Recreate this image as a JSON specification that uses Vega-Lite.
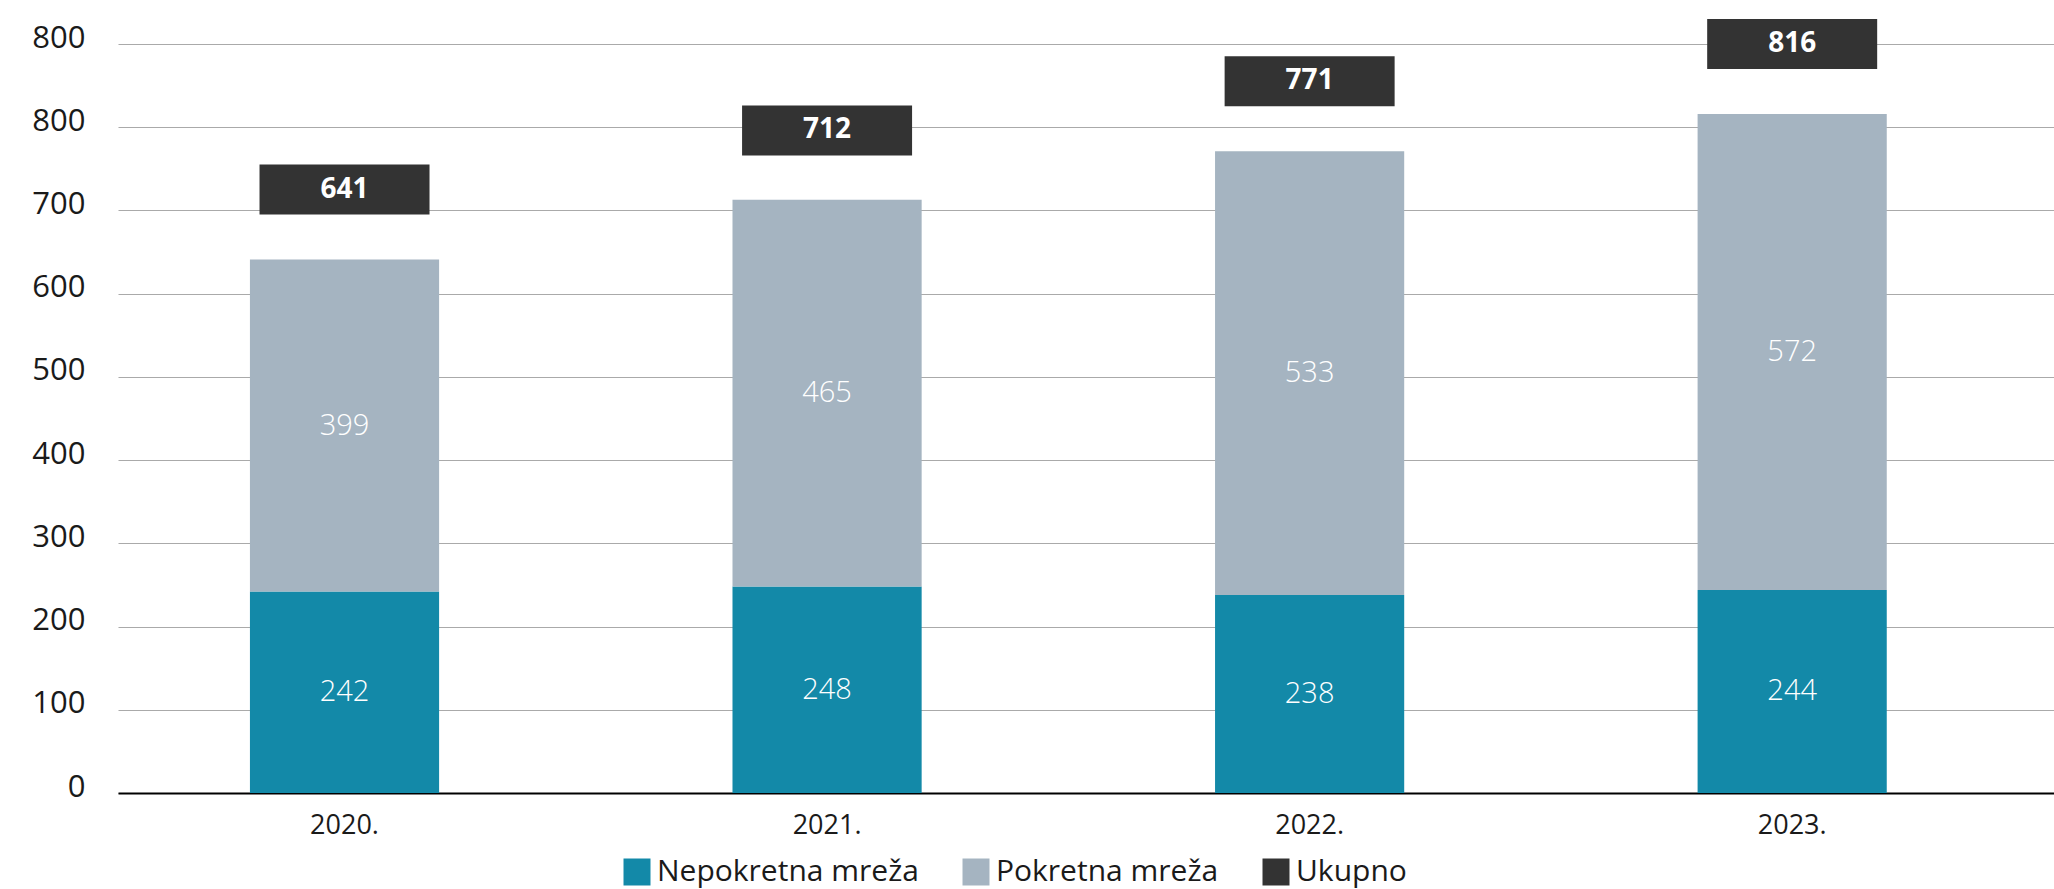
{
  "$schema": "https://vega.github.io/schema/vega-lite/v6.json",
  "width": 1936,
  "height": 749,
  "autosize": {"type": "none"},
  "padding": {"left": 118, "top": 44, "right": 0, "bottom": 96},
  "background": "white",
  "config": {"font": "Open Sans", "view": {"stroke": null}},
  "datasets": {
    "parts": [
      {"year": "2020.", "series": "Nepokretna mreža", "value": 242},
      {"year": "2020.", "series": "Pokretna mreža", "value": 399},
      {"year": "2021.", "series": "Nepokretna mreža", "value": 248},
      {"year": "2021.", "series": "Pokretna mreža", "value": 465},
      {"year": "2022.", "series": "Nepokretna mreža", "value": 238},
      {"year": "2022.", "series": "Pokretna mreža", "value": 533},
      {"year": "2023.", "series": "Nepokretna mreža", "value": 244},
      {"year": "2023.", "series": "Pokretna mreža", "value": 572}
    ],
    "totals": [
      {"year": "2020.", "series": "Ukupno", "total": 641},
      {"year": "2021.", "series": "Ukupno", "total": 712},
      {"year": "2022.", "series": "Ukupno", "total": 771},
      {"year": "2023.", "series": "Ukupno", "total": 816}
    ]
  },
  "encoding": {
    "x": {
      "field": "year",
      "type": "ordinal",
      "sort": null,
      "scale": {"paddingInner": 0.608, "paddingOuter": 0.31, "align": 0.441},
      "axis": {
        "title": null,
        "labelAngle": 0,
        "labelFontSize": 27,
        "labelColor": "#1a1a1a",
        "labelPadding": 19,
        "ticks": false,
        "domainColor": "#000000",
        "domainWidth": 2
      }
    }
  },
  "layer": [
    {
      "data": {"name": "parts"},
      "mark": {"type": "bar"},
      "encoding": {
        "y": {
          "field": "value",
          "type": "quantitative",
          "stack": "zero",
          "scale": {"domain": [0, 900], "nice": false},
          "axis": {
            "title": null,
            "values": [0, 100, 200, 300, 400, 500, 600, 700, 800, 900],
            "labelExpr": "datum.value == 900 ? '800' : datum.label",
            "labelFontSize": 31,
            "labelColor": "#1a1a1a",
            "labelPadding": 33,
            "labelOffset": -6,
            "ticks": false,
            "domain": false,
            "gridColor": "#aaaaaa",
            "gridWidth": 1.2
          }
        },
        "color": {
          "field": "series",
          "type": "nominal",
          "scale": {
            "domain": ["Nepokretna mreža", "Pokretna mreža", "Ukupno"],
            "range": ["#1389a8", "#a5b4c1", "#333333"]
          },
          "legend": {
            "title": null,
            "orient": "none",
            "direction": "horizontal",
            "legendX": 504,
            "legendY": 813,
            "symbolType": "square",
            "symbolSize": 729,
            "symbolStrokeWidth": 0,
            "symbolOpacity": 1,
            "labelFontSize": 30,
            "labelColor": "#1a1a1a",
            "labelOffset": 5,
            "columnPadding": 42,
            "labelLimit": 400
          }
        },
        "order": {"field": "series", "sort": "ascending"}
      }
    },
    {
      "data": {"name": "parts"},
      "transform": [
        {"stack": "value", "groupby": ["year"], "sort": [{"field": "series", "order": "ascending"}], "as": ["v0", "v1"]},
        {"calculate": "(datum.v0 + datum.v1) / 2", "as": "mid"}
      ],
      "mark": {"type": "text", "color": "white", "fontSize": 29, "fontWeight": 300, "baseline": "middle", "align": "center"},
      "encoding": {
        "y": {"field": "mid", "type": "quantitative"},
        "text": {"field": "value", "type": "quantitative"}
      }
    },
    {
      "data": {"name": "totals"},
      "mark": {"type": "bar", "width": 170, "yOffset": -95, "y2Offset": -45},
      "encoding": {
        "y": {"field": "total", "type": "quantitative"},
        "y2": {"field": "total"},
        "color": {"field": "series", "type": "nominal"}
      }
    },
    {
      "data": {"name": "totals"},
      "mark": {"type": "text", "color": "white", "fontSize": 28, "fontWeight": "bold", "baseline": "middle", "align": "center", "yOffset": -70},
      "encoding": {
        "y": {"field": "total", "type": "quantitative"},
        "text": {"field": "total", "type": "quantitative"}
      }
    }
  ]
}
